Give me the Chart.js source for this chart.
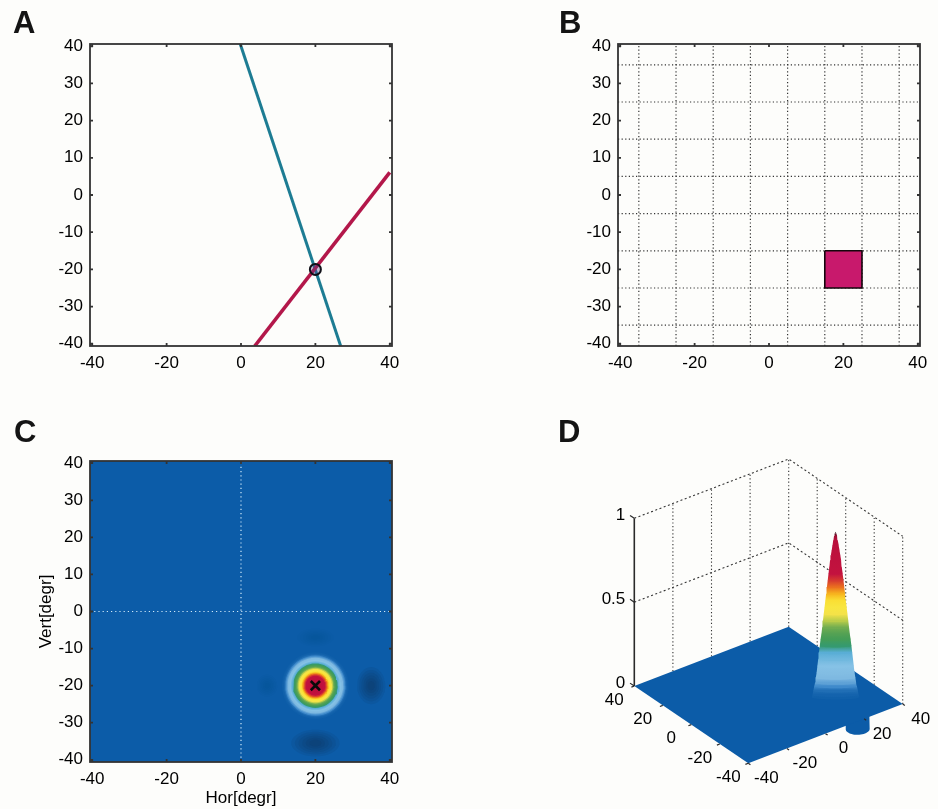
<!DOCTYPE html>
<html>
<head>
<meta charset="utf-8">
<script src="https://cdn.jsdelivr.net/npm/chart.js@4"></script>
<style>
  html, body { margin: 0; padding: 0; background: #fdfdfb; }
  body { position: relative; width: 938px; height: 809px; overflow: hidden; }
  canvas { position: absolute; filter: blur(0.4px); }
  .letter { position: absolute; font: bold 31px "Liberation Sans", Arial, sans-serif; color: #141414; line-height: 31px; filter: blur(0.4px); }
</style>
</head>
<body>
<div class="letter" style="left:13px;top:7px">A</div>
<div class="letter" style="left:559px;top:7px">B</div>
<div class="letter" style="left:14px;top:416px">C</div>
<div class="letter" style="left:558px;top:416px">D</div>
<canvas id="chartA" width="390" height="345" style="left:20px;top:34px"></canvas>
<canvas id="chartB" width="390" height="345" style="left:548px;top:34px"></canvas>
<canvas id="chartC" width="390" height="358" style="left:20px;top:451px"></canvas>
<canvas id="chartD" width="342" height="359" style="left:596px;top:450px"></canvas>
<script>
// tick labels
const xTicks = [-40, -20, 0, 20, 40];
const yTicks = [-40, -30, -20, -10, 0, 10, 20, 30, 40];
const zTicks = [0, 0.5, 1];
const axisLimit = 40.6;

// panel A: the two lines and where they cross
const blueLineX = [-0.2, 26.8];
const blueLineY = [40.6, -40.6];
const redLineX = [3.7, 40];
const redLineY = [-40.6, 6.1];
const crossX = 20;
const crossY = -20;

// panel B: dotted grid and stimulus square
const gridValues = [-35, -25, -15, -5, 5, 15, 25, 35];
const squareX = [15, 25, 25, 15, 15];
const squareY = [-15, -15, -25, -25, -15];

// panel C/D: response height against distance from the peak
const profileRadius = [9.0, 8.7, 8.4, 8.1, 7.8, 7.5, 7.2, 6.9, 6.6, 6.3, 6.0, 5.7, 5.4, 5.1, 4.8, 4.5, 4.2, 3.9, 3.6, 3.3, 3.0, 2.7, 2.4, 2.1, 1.8, 1.5, 1.2, 0.9, 0.6, 0.3];
const profileValue = [0.015, 0.03, 0.055, 0.08, 0.1, 0.13, 0.16, 0.2, 0.24, 0.28, 0.32, 0.36, 0.39, 0.43, 0.47, 0.51, 0.55, 0.59, 0.63, 0.67, 0.71, 0.75, 0.79, 0.83, 0.86, 0.89, 0.92, 0.95, 0.975, 0.99];

// dark side lobes around the peak
const lobeX = [35, 20, 7, 20];
const lobeY = [-20, -35.5, -20, -7];
const lobeRx = [3.8, 6.5, 2.8, 5];
const lobeRy = [5, 3.6, 3, 2.5];
const lobeDepth = [0.5, 0.5, 0.09, 0.05];
const dipDepth = -0.085;

// colour map
const levelValues = [0, 0.05, 0.08, 0.12, 0.2, 0.28, 0.3, 0.34, 0.42, 0.46, 0.5, 0.58, 0.63, 0.68, 0.74, 0.97, 1];
const levelColors = ["#0c5ca8", "#1a68b0", "#3f8acb", "#7db8e0", "#86c2e6", "#5aaed6", "#2f9a86", "#3b9a58", "#5fa552", "#a8c648", "#f3e14a", "#fbe93a", "#f7b51e", "#e8601f", "#c4123f", "#b8103c", "#1a0a10"];

const fontFamily = '"Liberation Sans", Arial, sans-serif';
const tickFont = { family: fontFamily, size: 17 };
const inkColor = "#000";
const planeBlue = "#0c5ca8";

Chart.defaults.animation = false;
Chart.defaults.events = [];
Chart.defaults.color = inkColor;
Chart.defaults.plugins.legend.display = false;
Chart.defaults.plugins.tooltip.enabled = false;

function hexToRgb(hex) {
  return [1, 3, 5].map((i) => parseInt(hex.slice(i, i + 2), 16));
}

function colorFor(v) {
  for (let i = 1; i < levelValues.length; i++) {
    if (v <= levelValues[i]) {
      const t = (v - levelValues[i - 1]) / (levelValues[i] - levelValues[i - 1]);
      const a = hexToRgb(levelColors[i - 1]);
      const b = hexToRgb(levelColors[i]);
      return "rgb(" + a.map((c, k) => Math.round(c + (b[k] - c) * t)).join(",") + ")";
    }
  }
  return levelColors[levelColors.length - 1];
}

function zip(xs, ys) {
  return xs.map((x, i) => ({ x: x, y: ys[i] }));
}

function lineSet(data, color, width, dash) {
  return {
    data: data,
    showLine: true,
    borderColor: color,
    borderWidth: width,
    borderDash: dash || [],
    pointRadius: 0,
    fill: false,
  };
}

function shapeSet(data, color) {
  return {
    data: data,
    showLine: true,
    borderWidth: 0,
    borderColor: "transparent",
    backgroundColor: color,
    pointRadius: 0,
    fill: "shape",
  };
}

function ellipse(cx, cy, rx, ry) {
  const pts = [];
  for (let i = 0; i <= 48; i++) {
    const t = (i / 48) * 2 * Math.PI;
    pts.push({ x: cx + rx * Math.cos(t), y: cy + ry * Math.sin(t) });
  }
  return pts;
}

function axisScale(ticks, boxSize, padding, title) {
  return {
    type: "linear",
    min: -axisLimit,
    max: axisLimit,
    afterBuildTicks: (s) => { s.ticks = ticks.map((v) => ({ value: v })); },
    afterFit: (s) => {
      if (s.isHorizontal()) s.height = boxSize;
      else s.width = boxSize;
      // labels may hang over the plot's ends, keep the plot where it is
      s.paddingLeft = s.paddingRight = s.paddingTop = s.paddingBottom = 0;
    },
    grid: { display: false, drawTicks: false },
    border: { display: false },
    ticks: {
      font: tickFont,
      color: inkColor,
      padding: padding,
      autoSkip: false,
      maxRotation: 0,
      callback: (v) => String(v),
    },
    title: title
      ? { display: true, text: title.text, font: tickFont, color: inkColor, padding: title.padding }
      : { display: false },
  };
}

// frame with inward ticks on all four sides
const framePlugin = {
  id: "frame",
  beforeDatasetsDraw(chart, args, opts) {
    const a = chart.chartArea;
    if (opts.fill) {
      chart.ctx.fillStyle = opts.fill;
      chart.ctx.fillRect(a.left, a.top, a.width, a.height);
    }
  },
  afterDatasetsDraw(chart) {
    const ctx = chart.ctx;
    const a = chart.chartArea;
    ctx.save();
    ctx.strokeStyle = "#333";
    ctx.lineWidth = 1.8;
    ctx.strokeRect(a.left, a.top, a.width, a.height);
    ctx.beginPath();
    xTicks.forEach((v) => {
      const p = chart.scales.x.getPixelForValue(v);
      ctx.moveTo(p, a.bottom); ctx.lineTo(p, a.bottom - 3);
      ctx.moveTo(p, a.top); ctx.lineTo(p, a.top + 3);
    });
    yTicks.forEach((v) => {
      const p = chart.scales.y.getPixelForValue(v);
      ctx.moveTo(a.left, p); ctx.lineTo(a.left + 3, p);
      ctx.moveTo(a.right, p); ctx.lineTo(a.right - 3, p);
    });
    ctx.stroke();
    ctx.restore();
  },
};

function flatChart(id, datasets, bottomBox, opts) {
  opts = opts || {};
  return new Chart(document.getElementById(id), {
    type: "scatter",
    data: { datasets: datasets.slice().reverse() }, // first dataset is painted last otherwise
    plugins: [framePlugin],
    options: {
      responsive: false,
      layout: { padding: { top: 10, right: 18 } },
      scales: {
        x: axisScale(xTicks, bottomBox, 7, opts.xTitle),
        y: axisScale(yTicks, 70, 7, opts.yTitle),
      },
      plugins: { frame: { fill: opts.fill } },
    },
  });
}

// Panel A
flatChart(
  "chartA",
  [
    lineSet(zip(blueLineX, blueLineY), "#1d7c93", 3),
    lineSet(zip(redLineX, redLineY), "#b3174a", 3.6),
    {
      data: [{ x: crossX, y: crossY }],
      pointStyle: "circle",
      pointRadius: 5.5,
      pointBorderColor: "#101018",
      pointBorderWidth: 2,
      pointBackgroundColor: "rgba(90,70,140,0.35)",
    },
  ],
  33
);

// Panel B
const gridSets = [];
gridValues.forEach((v) => {
  gridSets.push(lineSet([{ x: v, y: -axisLimit }, { x: v, y: axisLimit }], "#333", 1.2, [1.2, 2.4]));
  gridSets.push(lineSet([{ x: -axisLimit, y: v }, { x: axisLimit, y: v }], "#333", 1.2, [1.2, 2.4]));
});
const squareSet = shapeSet(zip(squareX, squareY), "#c8196c");
squareSet.borderColor = "#14060c";
squareSet.borderWidth = 1.6;
flatChart("chartB", gridSets.concat([squareSet]), 33);

// Panel C
const lobeScales = [1, 0.85, 0.7, 0.55, 0.4, 0.25];
const mapSets = [];
lobeX.forEach((x, i) => {
  lobeScales.forEach((k) => {
    const alpha = lobeDepth[i] / lobeScales.length;
    mapSets.push(shapeSet(ellipse(x, lobeY[i], lobeRx[i] * k, lobeRy[i] * k), "rgba(8,32,60," + alpha + ")"));
  });
});
profileRadius.forEach((r, i) => {
  mapSets.push(shapeSet(ellipse(crossX, crossY, r, r), colorFor(profileValue[i])));
});
mapSets.push(lineSet([{ x: 0, y: -axisLimit }, { x: 0, y: axisLimit }], "#cfe8f8", 1.2, [1.2, 3]));
mapSets.push(lineSet([{ x: -axisLimit, y: 0 }, { x: axisLimit, y: 0 }], "#cfe8f8", 1.2, [1.2, 3]));
mapSets.push({
  data: [{ x: crossX, y: crossY }],
  pointStyle: "crossRot",
  pointRadius: 6.5,
  pointBorderColor: "#0a0a0a",
  pointBorderWidth: 2.6,
});
flatChart("chartC", mapSets, 47, {
  fill: planeBlue,
  xTitle: { text: "Hor[degr]", padding: 0 },
  yTitle: { text: "Vert[degr]", padding: { top: 16 } },
});

// Panel D: oblique view, the chart's scales run in page pixels
const canvasD = document.getElementById("chartD");
const viewLeft = 596;
const viewTop = 450;
const floorOrigin = { x: 748.3, y: 763.3 };
const perDegreeX = { x: 1.93, y: -0.741 };
const perDegreeY = { x: -1.425, y: -0.966 };
const perUnitZ = 167.7;
const ringSquash = 0.2; // the colour bands on the peak read almost flat
const peakWiden = 1.1;

function project(x, y, z) {
  return {
    x: floorOrigin.x + (x + 40) * perDegreeX.x + (y + 40) * perDegreeY.x,
    y: floorOrigin.y + (x + 40) * perDegreeX.y + (y + 40) * perDegreeY.y - z * perUnitZ,
  };
}

// outline between two heights: front half of the lower disc, back half of the upper
function band(cx, cy, rLow, zLow, rHigh, zHigh, squash) {
  const t0 = Math.atan2(perDegreeY.x, perDegreeX.x);
  const mid = t0 + Math.PI / 2;
  const dir = perDegreeX.y * Math.cos(mid) + perDegreeY.y * Math.sin(mid) > 0 ? 1 : -1;
  const ring = (r, z, t) => {
    const centre = project(cx, cy, z);
    const p = project(cx + r * Math.cos(t), cy + r * Math.sin(t), z);
    return { x: p.x, y: centre.y + (p.y - centre.y) * squash };
  };
  const pts = [];
  for (let i = 0; i <= 24; i++) {
    pts.push(ring(rLow, zLow, t0 + (dir * i * Math.PI) / 24));
  }
  for (let i = 0; i <= 24; i++) {
    pts.push(ring(rHigh, zHigh, t0 + dir * Math.PI + (dir * i * Math.PI) / 24));
  }
  pts.push(pts[0]);
  return pts;
}

function bandGradient(zLow, zHigh) {
  const yLow = project(crossX, crossY, zLow).y - viewTop;
  const yHigh = project(crossX, crossY, zHigh).y - viewTop;
  const gradient = canvasD.getContext("2d").createLinearGradient(0, yLow, 0, yHigh);
  gradient.addColorStop(0, colorFor(zLow));
  gradient.addColorStop(1, colorFor(zHigh));
  return gradient;
}

const wallColor = "#333";
const wallDash = [1.2, 2.4];
const cubeSets = [];
[-20, 0, 20, 40].forEach((v) => {
  cubeSets.push(lineSet([project(v, 40, 0), project(v, 40, 1)], wallColor, 1.1, wallDash));
});
[20, 0, -20, -40].forEach((v) => {
  cubeSets.push(lineSet([project(40, v, 0), project(40, v, 1)], wallColor, 1.1, wallDash));
});
zTicks.slice(1).forEach((z) => {
  cubeSets.push(lineSet([project(-40, 40, z), project(40, 40, z), project(40, -40, z)], wallColor, 1.1, [2, 2.5]));
});
// z axis
cubeSets.push(lineSet([project(-40, 40, 0), project(-40, 40, 1)], "#2a2a2a", 1.6));
zTicks.forEach((z) => {
  cubeSets.push(lineSet([project(-40, 40, z), project(-40, 43, z)], "#2a2a2a", 1.2));
});
// dip showing under the front edge, then the plane over it
cubeSets.push(shapeSet(band(lobeX[1], lobeY[1], 5, dipDepth, 5, 0, 1), planeBlue));
cubeSets.push(shapeSet([project(-40, -40, 0), project(40, -40, 0), project(40, 40, 0), project(-40, 40, 0), project(-40, -40, 0)], planeBlue));
xTicks.forEach((v) => {
  cubeSets.push(lineSet([project(v, -40, 0), project(v, -41.5, 0)], "#2a2a2a", 1.2));
  cubeSets.push(lineSet([project(-40, v, 0), project(-41.5, v, 0)], "#2a2a2a", 1.2));
});
// peak, bottom up
profileRadius.forEach((r, i) => {
  const rNext = i + 1 < profileRadius.length ? profileRadius[i + 1] : 0;
  const zNext = i + 1 < profileValue.length ? profileValue[i + 1] : 1;
  cubeSets.push(shapeSet(
    band(crossX, crossY, r * peakWiden, profileValue[i], rNext * peakWiden, zNext, ringSquash),
    bandGradient(profileValue[i], zNext)
  ));
});

const cubeLabels = {
  id: "cubeLabels",
  afterDatasetsDraw(chart) {
    const ctx = chart.ctx;
    const toCanvas = (p) => ({ x: chart.scales.x.getPixelForValue(p.x), y: chart.scales.y.getPixelForValue(p.y) });
    ctx.save();
    ctx.font = "17px " + fontFamily;
    ctx.fillStyle = inkColor;
    ctx.textBaseline = "middle";
    ctx.textAlign = "center";
    xTicks.forEach((v) => {
      const left = toCanvas(project(-40, v, 0));
      ctx.fillText(String(v), left.x - 20, left.y + 14);
      const right = toCanvas(project(v, -40, 0));
      ctx.fillText(String(v), right.x + 18, right.y + 15);
    });
    ctx.textAlign = "right";
    zTicks.forEach((z) => {
      const p = toCanvas(project(-40, 40, z));
      ctx.fillText(String(z), p.x - 9, p.y - 3);
    });
    ctx.restore();
  },
};

new Chart(canvasD, {
  type: "scatter",
  data: { datasets: cubeSets.slice().reverse() },
  plugins: [cubeLabels],
  options: {
    responsive: false,
    layout: { padding: 0 },
    scales: {
      x: { type: "linear", display: false, min: viewLeft, max: viewLeft + canvasD.width },
      y: { type: "linear", display: false, min: viewTop, max: viewTop + canvasD.height, reverse: true },
    },
  },
});
</script>
</body>
</html>
